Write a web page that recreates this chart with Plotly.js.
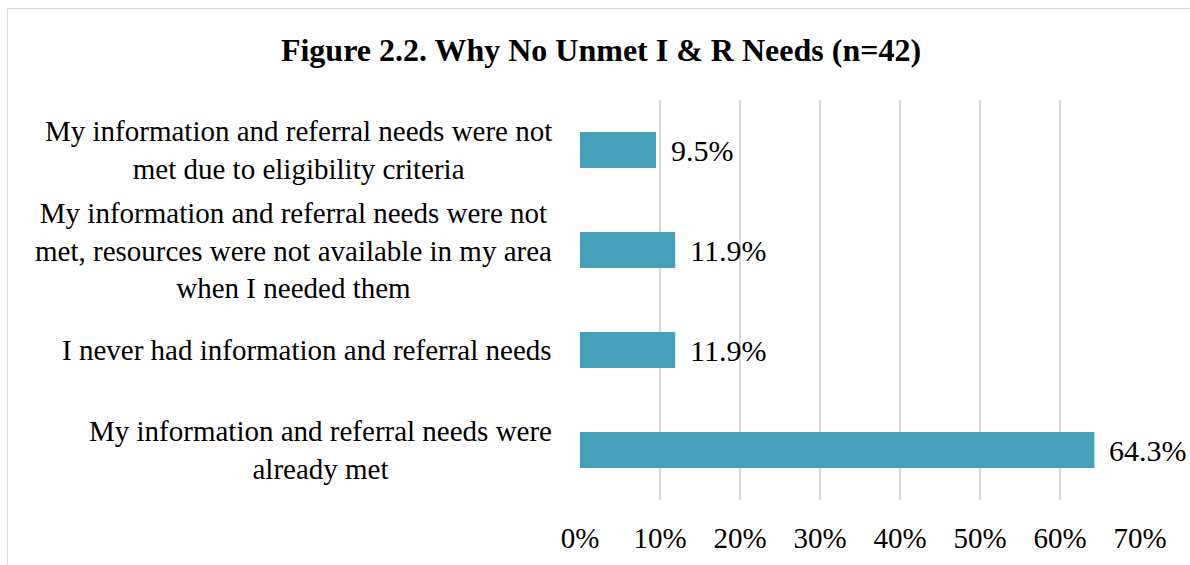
<!DOCTYPE html>
<html>
<head>
<meta charset="utf-8">
<script src="https://cdn.plot.ly/plotly-3.0.1.min.js"></script>
<style>
html,body{margin:0;padding:0;background:#fff;}
#wrap{position:relative;width:1190px;height:565px;overflow:hidden;}
#chart{position:absolute;left:0;top:0;width:1190px;height:565px;}
#frame{position:absolute;left:7px;top:8px;width:1300px;height:700px;border-top:1.5px solid #D9D9D9;border-left:1.5px solid #D9D9D9;pointer-events:none;}
</style>
</head>
<body>
<div id="wrap"><div id="chart"></div><div id="frame"></div></div>
<script>
const categories = [
  "My information and referral needs were<br>already met",
  "I never had information and referral needs",
  "My information and referral needs were not<br>met, resources were not available in my area<br>when I needed them",
  "My information and referral needs were not<br>met due to eligibility criteria"
];
const values = [64.3, 11.9, 11.9, 9.5];
const valueLabels = ["64.3%", "11.9%", "11.9%", "9.5%"];
const tickVals = [0, 10, 20, 30, 40, 50, 60, 70];
const tickLabels = ["0%", "10%", "20%", "30%", "40%", "50%", "60%", "70%"];

const serif = "Liberation Serif";
const annotations = [];
categories.forEach((c, i) => {
  annotations.push({
    text: c, x: 0, xref: 'paper', y: c, yref: 'y',
    xanchor: 'right', yanchor: 'middle', align: 'center', xshift: -26,
    showarrow: false, font: {family: serif, size: 29, color: '#000'}
  });
  annotations.push({
    text: valueLabels[i], x: values[i], xref: 'x', y: c, yref: 'y',
    xanchor: 'left', yanchor: 'middle', xshift: 13,
    showarrow: false, font: {family: serif, size: 30, color: '#000'}
  });
});

const trace = {
  type: 'bar', orientation: 'h',
  x: values, y: categories,
  width: 0.36,
  marker: {color: '#46A0B9'},
  hoverinfo: 'none'
};

const layout = {
  width: 1190, height: 565,
  margin: {l: 580, r: 50, t: 100, b: 65},
  paper_bgcolor: '#fff', plot_bgcolor: '#fff',
  showlegend: false,
  font: {family: serif},
  title: {
    text: '<b>Figure 2.2. Why No Unmet I &amp; R Needs (n=42)</b>',
    x: 601/1190, xref: 'container', xanchor: 'center',
    y: 1 - 50/565, yref: 'container', yanchor: 'middle',
    font: {family: serif, size: 32, color: '#000'}
  },
  xaxis: {
    range: [0, 70], tickvals: tickVals, ticktext: tickLabels,
    showgrid: true, gridcolor: '#D9D9D9', gridwidth: 1.5,
    zeroline: false, showline: false, ticks: '',
    ticklabelstandoff: 18,
    tickfont: {family: serif, size: 29, color: '#000'},
    fixedrange: true
  },
  yaxis: {
    type: 'category', categoryorder: 'array', categoryarray: categories,
    range: [-0.5, 3.5], showticklabels: false, showgrid: false,
    zeroline: false, showline: false, ticks: '', fixedrange: true
  },
  annotations: annotations
};

Plotly.newPlot('chart', [trace], layout, {displayModeBar: false, staticPlot: true});
</script>
</body>
</html>
